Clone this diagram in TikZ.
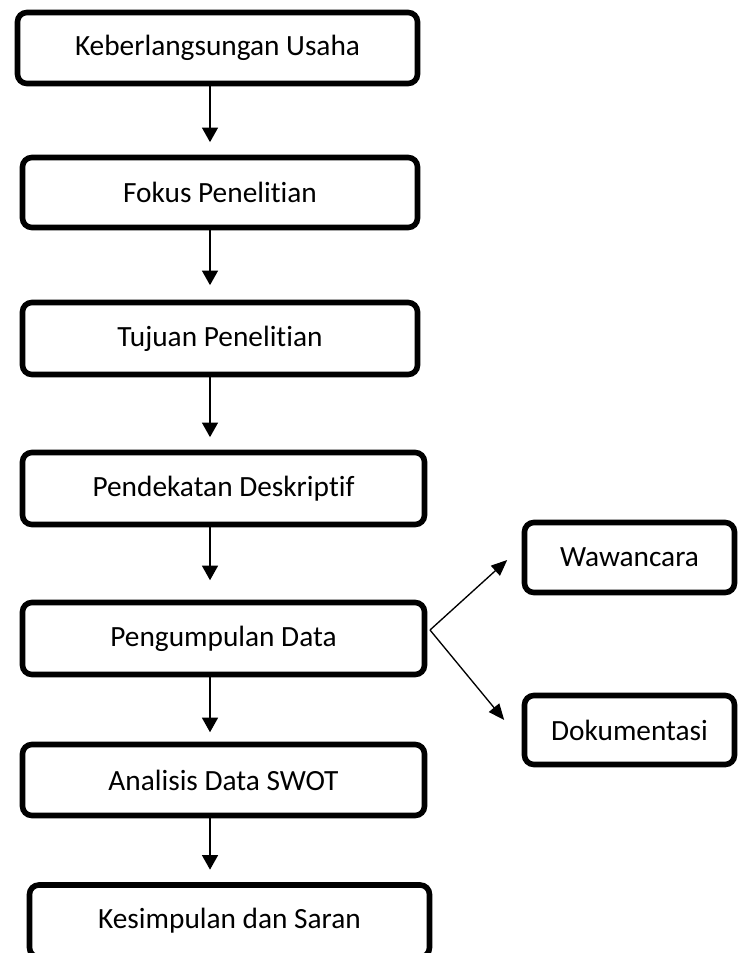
\documentclass[tikz,border=0pt]{standalone}
\usepackage{fontspec}
\setmainfont{Carlito}[Ligatures=NoCommon]
\usetikzlibrary{arrows.meta,calc}

\tikzset{every picture/.style={line width=0.75pt}}
\tikzset{
	kotak/.style={draw, line width=4.2pt, rounded corners=7pt, inner sep=0.75pt, align=center, font=\fontsize{22}{26}\selectfont},
	panah/.style={line width=1.3pt, -{Triangle[width=12pt,length=11pt]}},
	cabang/.style={line width=1pt, -{Triangle[width=10pt,length=12pt]}}
}

\begin{document}
\begin{tikzpicture}[x=0.75pt,y=0.75pt,yscale=-1,xscale=1]
	\useasboundingbox (0,0) rectangle (739,953);
	
	%Coordinates for the connectors
	\coordinate (garis) at (210,0);
	\coordinate (pecah) at (430,630);
	
	%Shape: Rounded Rect [id:usaha]
	\node [kotak, minimum width=300pt, minimum height=53.25pt] (usaha) at (217.5,48) {Keberlangsungan Usaha};
	%Shape: Rounded Rect [id:fokus]
	\node [kotak, minimum width=296.25pt, minimum height=52.5pt] (fokus) at (220,192.5) {Fokus Penelitian};
	%Shape: Rounded Rect [id:tujuan]
	\node [kotak, minimum width=296.25pt, minimum height=54pt] (tujuan) at (220,338.5) {Tujuan Penelitian};
	%Shape: Rounded Rect [id:deskriptif]
	\node [kotak, minimum width=301.5pt, minimum height=54pt] (deskriptif) at (223.5,488.5) {Pendekatan Deskriptif};
	%Shape: Rounded Rect [id:kumpul]
	\node [kotak, minimum width=301.5pt, minimum height=54pt] (kumpul) at (223.5,638.5) {Pengumpulan Data};
	%Shape: Rounded Rect [id:swot]
	\node [kotak, minimum width=301.5pt, minimum height=53.25pt] (swot) at (223.5,780) {Analisis Data SWOT};
	%Shape: Rounded Rect [id:simpul]
	\node [kotak, minimum width=300pt, minimum height=54pt] (simpul) at (229.5,921) {Kesimpulan dan Saran};
	%Shape: Rounded Rect [id:wawan]
	\node [kotak, minimum width=157.5pt, minimum height=52.5pt] (wawan) at (629.5,557.5) {Wawancara};
	%Shape: Rounded Rect [id:doku]
	\node [kotak, minimum width=157.5pt, minimum height=51.75pt] (doku) at (629.5,730) {Dokumentasi};
	
	%Straight Lines [id:arrows down]
	\draw [panah, shorten >=9.4pt] (usaha.south -| garis) -- (fokus.north -| garis);
	\draw [panah, shorten >=10.9pt] (fokus.south -| garis) -- (tujuan.north -| garis);
	\draw [panah, shorten >=9.4pt] (tujuan.south -| garis) -- (deskriptif.north -| garis);
	\draw [panah, shorten >=14.6pt] (deskriptif.south -| garis) -- (kumpul.north -| garis);
	\draw [panah, shorten >=7.1pt] (kumpul.south -| garis) -- (swot.north -| garis);
	\draw [panah, shorten >=9.4pt] (swot.south -| garis) -- (simpul.north -| garis);
	
	%Straight Lines [id:arrows side]
	\draw [cabang] (pecah) -- ($(wawan.west)+(-14.5,2.5)$);
	\draw [cabang] (pecah) -- ($(doku.west)+(-17.5,-10)$);
	
\end{tikzpicture}
\end{document}
